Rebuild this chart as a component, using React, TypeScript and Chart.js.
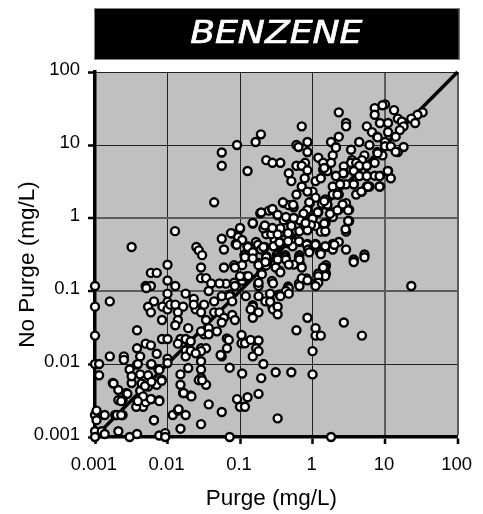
import React, { useEffect, useRef } from "react";
import { Chart, registerables } from "chart.js";

Chart.register(...registerables);

const titleText = "BENZENE";
const xAxisTitle = "Purge (mg/L)";
const yAxisTitle = "No Purge (mg/L)";
const decades = [0.001, 0.01, 0.1, 1, 10, 100];
const decadeLabels = ["0.001", "0.01", "0.1", "1", "10", "100"];
const heavyGridX = [10, 100];
const heavyGridY = [1, 0.1];
const parityLine = [
  { x: 0.001, y: 0.001 },
  { x: 100, y: 100 },
];

// [purge, no purge] in mg/L
const upperLeftSamples: [number, number][] = [
  [0.0032,0.4],[0.0127,0.66],[0.025,0.4],[0.027,0.36],[0.03,0.31],[0.044,1.64],[0.056,7.9],[0.056,5.2],[0.091,10],[0.164,11],
  [0.194,14],[0.127,4.4],[0.23,6.2],[0.19,1.16],[0.15,0.84],[0.1,0.71],[0.078,0.61],[0.094,0.55],[0.107,0.5],[0.087,0.44],
  [0.056,0.52],[0.06,0.37],[0.127,0.41],[0.166,0.47],[0.117,0.32],[0.15,0.33],[0.177,0.43],[0.22,0.4],[0.22,0.77],[0.23,0.6],
  [0.21,0.72],[0.23,0.3],[0.25,1.26],[0.195,0.37],
];

const upperRightSamples: [number, number][] = [
  [0.71,18],[2.3,28],[2.9,20],[2.9,18],[7.2,32],[10,36],[9.2,35],[7.2,26],[13.3,30],[33,28],
  [28,26],[23,23],[26,20],[15,23],[17,21],[18,18],[16,16],[8.5,20],[11,20],[5.6,18],
  [6.6,15],[7.8,13],[11,15],[14,13],[2.3,13],[1.8,11],[4.4,11],[6.1,10],[0.85,11],[0.6,10],
  [0.64,9.4],[2.1,9.4],[0.85,8],[3.4,8.6],[10,11],[10,9.6],[12,9.6],[18,9.4],[15,8],[7.8,8],
  [9.2,7.2],[5.2,7.2],[1.9,7.2],[1.2,6.7],[1.4,5.7],[1.8,5.7],[3.5,6.2],[3.4,5.7],[4.4,5.2],[5.6,5.2],
  [7.2,5.7],[4.8,6.2],[0.79,5.7],[0.6,5.2],[0.71,5.2],[0.36,5.7],[0.28,5.7],[0.47,4.1],[0.51,3.2],[0.85,4.5],
  [0.78,3.5],[1.1,3.2],[1.3,3.5],[0.71,2.7],[1,2.3],[0.6,2.1],[0.85,2.3],[1.4,4.6],[1.6,4.4],[2.7,5.1],
  [2.7,4.1],[2.1,3.8],[3.7,4.4],[4.4,3.8],[5.6,3.8],[7.2,3.8],[8.5,3.8],[11,4.4],[12,3.5],[8.5,2.7],
  [6.1,2.7],[5.6,2.7],[4.8,2.3],[4,2.1],[3.7,2.9],[2.5,2.9],[1.9,2.7],[2.9,2.9],[2.3,2.1],[1.9,2.1],
  [1.5,1.8],[1.1,1.9],[1.6,1.5],[0.92,1.6],[2.7,1.5],[2.9,1.6],[2.3,1.3],[3.2,1.3],[1.2,1.2],[1.8,1.17],
  [1.9,1.03],[1,1],[0.85,1.3],[0.75,1.15],[0.55,1],[0.4,1.6],[0.47,1.5],[0.55,1.4],[0.28,1.3],[0.33,1.09],
  [0.4,0.93],[0.51,0.78],[0.47,0.61],[0.36,0.72],[0.28,0.72],[0.66,0.66],[0.76,0.84],[1,0.98],[1.1,0.78],[1.5,0.85],
  [3.2,0.91],[2.9,0.65],[1.5,0.65],[1.3,0.65],[0.66,0.47],[0.85,0.44],[1.1,0.44],[0.92,0.37],[1.3,0.34],[1.5,0.4],
  [1.9,0.44],[1.9,0.37],[2.3,0.47],[2.9,0.37],[5.2,0.316],[3.7,0.27],[0.33,0.43],[0.4,0.5],[0.53,0.47],[0.3,0.5],
  [0.32,0.31],[0.42,0.31],[0.66,0.31],[0.27,0.6],[0.35,0.47],[0.46,0.45],[0.53,0.41],[0.29,0.41],[0.8,0.75],[0.95,0.8],
  [0.85,0.68],[0.33,0.6],[0.43,1.03],[0.67,0.93],
];

const lowerLeftSamples: [number, number][] = [
  [0.001,0.117],[0.001,0.061],[0.001,0.0245],[0.001,0.01],[0.00114,0.01],[0.00114,0.007],[0.0016,0.072],[0.0016,0.0127],[0.0025,0.0127],[0.0025,0.0114],
  [0.00176,0.0055],[0.0021,0.0044],[0.0027,0.004],[0.0021,0.0032],[0.0024,0.0032],[0.00136,0.002],[0.0019,0.002],[0.0024,0.002],[0.001,0.002],[0.00105,0.0023],
  [0.00105,0.0017],[0.001,0.0012],[0.001,0.001],[0.00124,0.0012],[0.00136,0.0011],[0.0021,0.0012],[0.003,0.001],[0.0038,0.0011],[0.0065,0.0017],[0.0077,0.00105],
  [0.0093,0.00113],[0.0093,0.001],[0.0151,0.0013],[0.0118,0.002],[0.0139,0.0023],[0.0178,0.002],[0.029,0.0015],[0.037,0.0028],[0.056,0.0022],[0.072,0.001],
  [0.091,0.0033],[0.1,0.0026],[0.117,0.0026],[0.127,0.0035],[0.18,0.0039],[0.196,0.0064],[0.21,0.01],[0.107,0.0074],[0.072,0.0089],[0.056,0.0127],
  [0.054,0.0133],[0.066,0.0164],[0.0659,0.0224],[0.07,0.0214],[0.105,0.025],[0.105,0.0192],[0.117,0.0192],[0.14,0.0214],[0.18,0.021],[0.167,0.0164],
  [0.15,0.0127],[0.18,0.015],[0.01,0.229],[0.0059,0.177],[0.0071,0.177],[0.005,0.117],[0.0059,0.117],[0.0051,0.11],[0.01,0.139],[0.0128,0.117],
  [0.0178,0.092],[0.01,0.092],[0.01,0.071],[0.0065,0.072],[0.0054,0.0608],[0.0059,0.051],[0.0085,0.061],[0.01,0.056],[0.0109,0.065],[0.0128,0.065],
  [0.0164,0.061],[0.0139,0.051],[0.0084,0.04],[0.0139,0.04],[0.0128,0.034],[0.0193,0.031],[0.0038,0.029],[0.0084,0.022],[0.01,0.022],[0.0151,0.022],
  [0.0178,0.022],[0.0209,0.0205],[0.0139,0.019],[0.0178,0.0153],[0.0178,0.0127],[0.0209,0.0152],[0.029,0.0164],[0.034,0.0164],[0.029,0.015],[0.0245,0.014],
  [0.032,0.0255],[0.029,0.028],[0.037,0.031],[0.048,0.028],[0.037,0.0255],[0.029,0.21],[0.06,0.21],[0.085,0.21],[0.029,0.15],[0.034,0.15],
  [0.052,0.127],[0.04,0.127],[0.037,0.1],[0.085,0.117],[0.107,0.138],[0.073,0.09],[0.023,0.078],[0.0245,0.056],[0.023,0.065],[0.032,0.065],
  [0.029,0.051],[0.044,0.072],[0.056,0.085],[0.072,0.085],[0.078,0.072],[0.044,0.051],[0.052,0.051],[0.06,0.043],[0.078,0.047],[0.085,0.04],
  [0.034,0.04],[0.056,0.037],[0.15,0.061],[0.14,0.056],[0.18,0.051],[0.15,0.043],[0.18,0.117],[0.12,0.085],[0.18,0.085],[0.12,0.158],
  [0.18,0.226],[0.117,0.29],[0.15,0.28],[0.224,0.072],[0.224,0.25],[0.1,0.16],[0.13,0.16],[0.18,0.13],[0.2,0.17],
  [0.01,0.0118],[0.01,0.0103],[0.0193,0.0088],[0.0151,0.0072],[0.029,0.0109],[0.029,0.0084],[0.029,0.0065],[0.027,0.006],[0.034,0.0052],[0.0151,0.0052],
  [0.0164,0.004],[0.0209,0.0037],[0.0075,0.0084],[0.0083,0.0061],[0.0071,0.0052],[0.0059,0.0098],[0.0038,0.0098],[0.003,0.0084],[0.0042,0.0127],[0.0038,0.0164],
  [0.005,0.019],[0.0059,0.018],[0.0071,0.0138],[0.0042,0.0072],[0.0032,0.0055],[0.0049,0.006],[0.0054,0.007],[0.0042,0.0043],[0.006,0.0033],[0.0077,0.0032],
  [0.0038,0.0032],[0.0046,0.0026],[0.0037,0.0026],[0.005,0.003],[0.0054,0.0049],[0.0044,0.0054],[0.0032,0.0068],[0.0049,0.005],[0.006,0.0057],[0.0046,0.0036],
  [0.0039,0.01],[0.006,0.01],[0.0077,0.0083],[0.0083,0.0059],[0.0018,0.0054],[0.0028,0.0039],[0.0023,0.0031],[0.0039,0.0031],[0.0059,0.0033],[0.0077,0.0031],
  [0.002,0.002],[0.0023,0.002],[0.0065,0.0017],[0.0142,0.0024],[0.0214,0.0036],[0.0167,0.004],[0.03,0.006],
];

const lowerRightSamples: [number, number][] = [
  [5.2,0.29],[3.7,0.25],[1.5,0.21],[1.4,0.21],[1.5,0.16],[1.2,0.16],[1.2,0.13],[0.66,0.27],[0.71,0.21],[0.43,0.27],
  [0.33,0.27],[0.31,0.21],[0.36,0.18],[0.55,0.23],[0.47,0.23],[0.71,0.15],[0.85,0.14],[0.66,0.117],[1.1,0.117],[0.285,0.127],
  [0.47,0.109],[0.43,0.1],[0.47,0.092],[0.36,0.085],[0.26,0.092],[0.26,0.071],[0.285,0.056],[0.33,0.061],[0.33,0.048],[0.85,0.043],
  [1.1,0.031],[1.1,0.0245],[1.3,0.0245],[0.6,0.029],[2.7,0.037],[4.8,0.0245],[1,0.015],[0.31,0.0077],[0.51,0.0077],[1,0.0072],
  [0.33,0.0018],[1.8,0.001],[23,0.117],[1.3,0.32],[0.9,0.34],
];

const centralSamples: [number, number][] = [
  [0.196,1.19],[0.28,1.33],[0.39,1.64],[0.54,1.52],[0.33,1.11],[0.15,0.855],[0.22,0.79],[0.28,0.73],[0.55,1],[0.46,0.62],
  [0.35,0.46],[0.46,0.48],[0.65,0.48],[0.83,0.43],[1.1,0.43],[1.5,0.41],[2,0.43],[1.27,0.34],[0.87,0.37],[0.21,0.4],
  [0.128,0.4],[0.15,0.34],[0.115,0.31],[0.075,0.62],[0.1,0.73],[0.09,0.43],[0.18,0.243],[0.23,0.29],[0.33,0.29],[0.42,0.29],
  [0.65,0.29],[0.69,0.224],[0.35,0.19],[0.3,0.228],[0.23,0.224],[0.083,0.226],[0.107,0.226],[0.196,0.178],[0.109,0.15],[0.083,0.13],
  [0.064,0.126],[0.177,0.123],[0.276,0.137],[0.46,0.115],[0.35,0.09],[0.65,0.127],[0.83,0.149],[1.1,0.127],[1.2,0.174],[1.53,0.174],
  [1.53,0.226],[0.257,0.076],[0.15,0.064],[0.28,0.06],[0.071,0.088],[1.5,0.855],[1.5,0.66],[1.18,1.2],[0.8,0.855],[0.9,1.64],
  [1.35,1.57],[1.8,1.2],[2.1,9.2],[7.9,12.7],[7.9,7.7],[14,8.1],[4,5.7],[4.4,5.2],[5.6,5.2],[2.65,4.1],
  [3.7,4.4],[4.4,3.75],[2.1,3.75],[1.45,4.85],[8.4,3.75],[10.9,4.4],[5.6,3.75],[2.4,2.9],[3.7,2.9],[5.8,2.7],
  [8.4,2.7],[4.7,2.3],[2.2,2.1],[1.6,1.53],[2.6,1.53],[1.45,1.7],[2.2,1.27],[3.1,1.27],[1.74,1.14],[3.1,0.91],
  [1.45,0.84],[2.85,0.7],
];

const samples = [...upperLeftSamples, ...upperRightSamples, ...centralSamples, ...lowerLeftSamples, ...lowerRightSamples];

const FONT = "'Liberation Sans', Arial, sans-serif";

const frameAndTitlesPlugin = {
  id: "frameAndTitles",
  beforeDraw(chart: any) {
    const { ctx, chartArea } = chart;
    ctx.save();
    ctx.fillStyle = "#000000";
    ctx.strokeStyle = "#808080";
    ctx.lineWidth = 1;
    ctx.fillRect(chartArea.left - 1, 8, chartArea.right - chartArea.left + 3, 52);
    ctx.strokeRect(chartArea.left - 0.5, 8.5, chartArea.right - chartArea.left + 2, 51);
    ctx.fillStyle = "#C0C0C0";
    ctx.fillRect(chartArea.left, chartArea.top, chartArea.right - chartArea.left, chartArea.bottom - chartArea.top);
    ctx.restore();
  },
  afterDraw(chart: any) {
    const { ctx, chartArea } = chart;
    const midX = (chartArea.left + chartArea.right) / 2;
    ctx.save();
    ctx.fillStyle = "#000000";
    ctx.font = `22.5px ${FONT}`;
    ctx.textAlign = "center";
    ctx.textBaseline = "middle";
    ctx.fillText(xAxisTitle, midX - 5, chart.height - 15);
    ctx.save();
    ctx.translate(28, (chartArea.top + chartArea.bottom) / 2 + 10);
    ctx.rotate(-Math.PI / 2);
    ctx.fillText(yAxisTitle, 0, 0);
    ctx.restore();
    ctx.translate(midX, 35);
    ctx.scale(1.13, 1);
    ctx.font = "italic 32px 'DejaVu Sans', sans-serif";
    ctx.fillStyle = "#ffffff";
    ctx.strokeStyle = "#ffffff";
    ctx.lineWidth = 0.7;
    ctx.fillText(titleText, 0, 0);
    ctx.strokeText(titleText, 0, 0);
    ctx.restore();
  },
};

export default function App() {
  const ref = useRef<HTMLCanvasElement>(null);
  useEffect(() => {
    const axis = (heavy: number[], fit: (s: any) => void, padding: number, labelOffset: number) => ({
      type: "logarithmic" as const,
      min: 0.001,
      max: 100,
      afterBuildTicks(s: any) {
        s.ticks = decades.map((value) => ({ value }));
      },
      afterFit: fit,
      border: { display: true, color: "#000000", width: 3.5 },
      grid: {
        color: (c: any) => (heavy.includes(c.tick?.value) ? "#5c5c5c" : "#222222"),
        lineWidth: (c: any) => (heavy.includes(c.tick?.value) ? 2 : 1),
        tickLength: 7,
        tickColor: "#000000",
        tickWidth: 2.5,
      },
      ticks: {
        color: "#000000",
        font: { family: FONT, size: 18.5 },
        padding,
        labelOffset,
        autoSkip: false,
        maxRotation: 0,
        callback: (v: any) => {
          const i = decades.indexOf(Number(v));
          return i >= 0 ? decadeLabels[i] : "";
        },
      },
    });
    const chart = new Chart(ref.current!, {
      data: {
        datasets: [
          {
            type: "scatter",
            data: samples.map(([x, y]) => ({ x, y })),
            backgroundColor: "#ffffff",
            borderColor: "#000000",
            borderWidth: 2.4,
            pointRadius: 4,
            clip: false,
          },
          {
            type: "line",
            data: parityLine,
            borderColor: "#000000",
            borderWidth: 3.5,
            pointRadius: 0,
            clip: false,
          },
        ],
      } as any,
      options: {
        responsive: false,
        animation: false,
        layout: { padding: { top: 72, right: 24, left: 0, bottom: 0 } },
        scales: {
          x: axis(heavyGridX, (s: any) => { s.height = 77; }, 10, -1),
          y: axis(heavyGridY, (s: any) => { s.width = 95; }, 8, -2),
        },
        plugins: {
          legend: { display: false },
          tooltip: { enabled: false },
          title: { display: false },
        },
      } as any,
      plugins: [frameAndTitlesPlugin],
    });
    return () => chart.destroy();
  }, []);
  return (
    <div style={{ position: "fixed", left: 0, top: 0, width: 483, height: 514, background: "#fff" }}>
      <canvas ref={ref} width={483} height={514} style={{ display: "block" }} />
    </div>
  );
}
